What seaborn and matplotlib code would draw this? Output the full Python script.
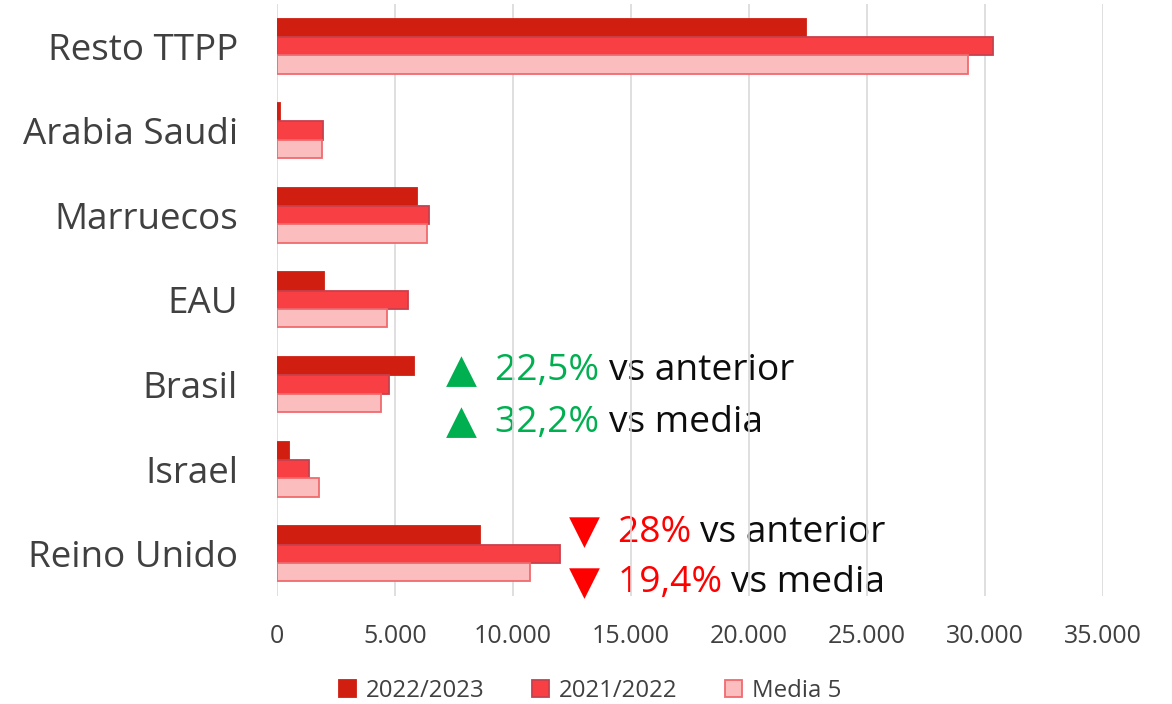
import matplotlib
matplotlib.use("Agg")
import matplotlib.pyplot as plt
import seaborn as sns
import pandas as pd
from matplotlib.patches import Patch
from matplotlib.offsetbox import TextArea, HPacker, AnnotationBbox

categories = ["Resto TTPP", "Arabia Saudi", "Marruecos", "EAU", "Brasil", "Israel", "Reino Unido"]
series_names = ["2022/2023", "2021/2022", "Media 5"]
v_2022_2023 = [22400, 110, 5920, 1980, 5810, 490, 8600]
v_2021_2022 = [30350, 1930, 6430, 5560, 4750, 1350, 11980]
v_media5 = [29280, 1890, 6350, 4640, 4400, 1790, 10700]
x_ticks = [0, 5000, 10000, 15000, 20000, 25000, 30000, 35000]
x_tick_labels = ["0", "5.000", "10.000", "15.000", "20.000", "25.000", "30.000", "35.000"]

fill_colors = ["#D01F10", "#F84044", "#FBBDBE"]
edge_colors = ["#D01F10", "#C8404C", "#F06A6E"]

rows = []
for name, vals in zip(series_names, [v_2022_2023, v_2021_2022, v_media5]):
    for c, v in zip(categories, vals):
        rows.append({"cat": c, "serie": name, "valor": v})
df = pd.DataFrame(rows)

FONT = ["Open Sans", "DejaVu Sans"]
sns.set_theme(style="white")
plt.rcParams["font.family"] = FONT

fig = plt.figure(figsize=(11.72, 7.04), dpi=100)
ax = fig.add_axes([277 / 1172, 1 - 596 / 704, (1103 - 277) / 1172, (596 - 3.7) / 704])

sns.barplot(data=df, y="cat", x="valor", hue="serie", order=categories,
            hue_order=series_names, palette=fill_colors, orient="h", saturation=1,
            width=0.65, ax=ax, legend=False, zorder=2)

for cont, ec in zip(ax.containers, edge_colors):
    for bar in cont:
        bar.set_edgecolor(ec)
        bar.set_linewidth(1.3)

ax.set_xlim(0, 35000)
ax.set_ylim(6.5, -0.5)
ax.set_xticks(x_ticks)
ax.set_xticklabels(x_tick_labels)
ax.set_xlabel("")
ax.set_ylabel("")
for s in ax.spines.values():
    s.set_visible(False)
ax.set_axisbelow(True)
ax.grid(axis="x", color="#D9D9D9", linewidth=1.2, zorder=1)
ax.grid(axis="y", visible=False)
ax.tick_params(axis="x", length=0, pad=20, labelsize=18, labelcolor="#404040")
ax.tick_params(axis="y", length=0, pad=28, labelsize=26.5, labelcolor="#404040")

def note(x, y, sym, pct, rest, color):
    t = TextArea(sym, textprops=dict(color=color, fontsize=29, family=["DejaVu Sans"]))
    a = TextArea(pct + " ", textprops=dict(color=color, fontsize=26.7, family=FONT))
    b = TextArea(rest, textprops=dict(color="#0D0D0D", fontsize=26.7, family=FONT))
    txt = HPacker(children=[a, b], align="baseline", pad=0, sep=0)
    box = HPacker(children=[t, txt], align="center", pad=0, sep=13)
    ab = AnnotationBbox(box, (x, y), xycoords="data", box_alignment=(0, 0.5),
                        frameon=False, pad=0, zorder=0.2)
    ax.add_artist(ab)

green = "#00B050"
red = "#FF0000"
note(7150, 3.84, "▲", "22,5%", "vs anterior", green)
note(7150, 4.45, "▲", "32,2%", "vs media", green)
note(12350, 5.75, "▼", "28%", "vs anterior", red)
note(12350, 6.35, "▼", "19,4%", "vs media", red)

handles = [Patch(facecolor=f, edgecolor=e, linewidth=1.3) for f, e in zip(fill_colors, edge_colors)]
fig.legend(handles, series_names, loc="center", bbox_to_anchor=(590 / 1172, 1 - 691 / 704),
           ncol=3, frameon=False, fontsize=17.3, handlelength=0.7, handleheight=0.7,
           handletextpad=0.4, columnspacing=2.0, labelcolor="#404040")

fig.savefig("out.png", dpi=100)
